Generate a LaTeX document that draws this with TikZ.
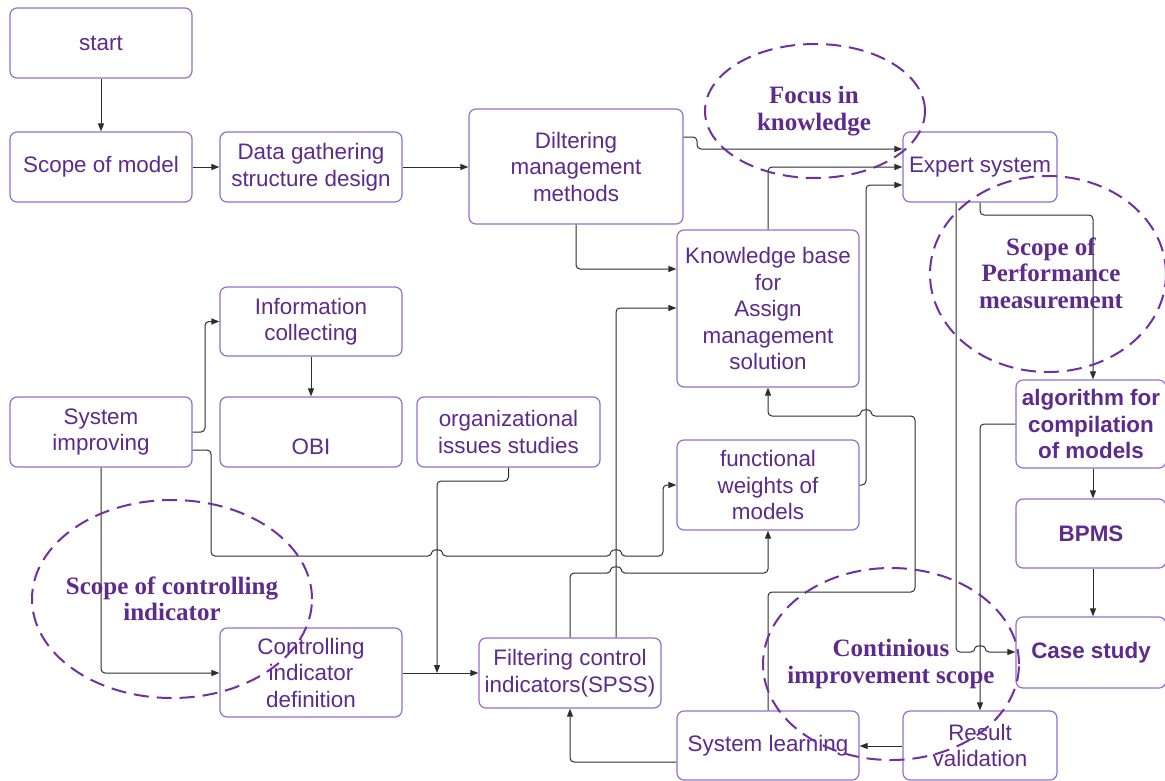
\documentclass[tikz,border=0pt]{standalone}
\usepackage{fontspec}
\setmainfont{Liberation Sans}
\newfontfamily\ellfont{Liberation Serif}
\usetikzlibrary{arrows.meta}
\definecolor{txtc}{RGB}{94,42,140}
\definecolor{boxc}{RGB}{150,110,205}
\definecolor{ellc}{RGB}{112,48,160}
\definecolor{linec}{RGB}{45,45,45}
\begin{document}
\begin{tikzpicture}[x=1pt,y=-1pt,
  box/.style={draw=boxc, line width=1.2pt, rounded corners=7pt, fill=white, text=txtc, align=center, inner sep=0pt, font=\fontsize{22.4}{26.5}\selectfont},
  bbox/.style={box, font=\bfseries\fontsize{22.4}{26.5}\selectfont},
  conn/.style={draw=linec, line width=1pt, rounded corners=4pt, -{Triangle[length=8pt,width=6pt]}},
  ell/.style={draw=ellc, line width=2pt, dash pattern=on 15pt off 8pt},
  elltext/.style={text=txtc, align=center, font=\ellfont\bfseries\fontsize{25}{26.5}\selectfont}]
\useasboundingbox (0,0) rectangle (1165,780);

% boxes
\node[box, minimum width=182pt, minimum height=70pt] (start) at (101,43) {start};
\node[box, minimum width=182pt, minimum height=70pt] (scope) at (101,167) {Scope of model};
\node[box, minimum width=182pt, minimum height=70pt] (data) at (311,167) {Data gathering\\structure design};
\node[box, minimum width=214pt, minimum height=115pt] (dilter) at (576,166.5) {Diltering\\management\\methods};
\node[box, minimum width=154pt, minimum height=70pt] (expert) at (980,167) {Expert system};
\node[box, minimum width=182pt, minimum height=157pt] (kb) at (768,308.5) {Knowledge base\\for\\Assign\\management\\solution};
\node[box, minimum width=182pt, minimum height=69pt] (info) at (311,321.5) {Information\\collecting};
\node[box, minimum width=182pt, minimum height=70pt] (sysimp) at (101,432) {System\\improving};
\node[box, minimum width=182pt, minimum height=70pt] (obi) at (311,432) {\strut\\OBI};
\node[box, minimum width=183pt, minimum height=70pt] (org) at (508.5,432) {organizational\\issues studies};
\node[box, minimum width=182pt, minimum height=90pt] (fw) at (768,485) {functional\\weights of\\models};
\node[bbox, minimum width=150pt, minimum height=88pt] (algo) at (1091,424) {algorithm for\\compilation\\of models};
\node[bbox, minimum width=150pt, minimum height=69pt] (bpms) at (1091,533.5) {BPMS};
\node[bbox, minimum width=150pt, minimum height=71pt] (case) at (1091,652.5) {Case study};
\node[box, minimum width=182pt, minimum height=89pt] (ctrl) at (311,672.5) {Controlling\\indicator\\definition};
\node[box, minimum width=182pt, minimum height=70pt] (filt) at (570,673) {Filtering control\\indicators(SPSS)};
\node[box, minimum width=182pt, minimum height=69pt] (syslearn) at (768,745.5) {System learning};
\node[box, minimum width=154pt, minimum height=69pt] (result) at (980,745.5) {Result\\validation};

% connectors
\draw[conn] (start) -- (scope);
\draw[conn] (scope) -- (data);
\draw[conn] (data.east) -- (data.east -| dilter.west);
\draw[conn] (dilter.east |- 0,137) -- (697,137) -- (697,149) -- (expert.west |- 0,149);
\draw[conn] (kb.north) |- (expert.west |- 0,167);
\draw[conn] (fw.east) -- (866,485) |- (expert.west |- 0,185);
\draw[conn] (dilter.south) |- (kb.west |- 0,269);
\draw[conn] (filt.north -| 616,0) |- (kb.west |- 0,308);
\draw[conn] (filt.north) -- (570,573) -- (611,573) .. controls (611,566) and (621,566) .. (621,573) -- (768,573) -- (fw.south);
\draw[conn] (sysimp.east |- 0,432) -- (205,432) |- (info.west);
\draw[conn] (info) -- (obi);
\draw[conn] (sysimp.east |- 0,450) -- (211,450) -- (211,556) -- (432,556) .. controls (432,549) and (442,549) .. (442,556) -- (611,556) .. controls (611,549) and (621,549) .. (621,556) -- (663,556) |- (fw.west);
\draw[conn] (sysimp.south) |- (ctrl.west |- 0,673);
\draw[conn] (org.south) -- (508.5,481) -- (437,481) -- (437,673);
\draw[conn] (ctrl.east |- 0,673) -- (filt.west |- 0,673);
\draw[conn] (expert.south) -- (980,215) -| (algo.north -| 1093,0);
\draw[conn] (expert.south -| 956,0) -- (956,652) -- (975,652) .. controls (975,645) and (985,645) .. (985,652) -- (case.west |- 0,652);
\draw[conn] (algo.west |- 0,424) -| (result.north);
\draw[conn] (algo.south -| 1093,0) -- (bpms.north -| 1093,0);
\draw[conn] (bpms.south -| 1093,0) -- (case.north -| 1093,0);
\draw[conn] (result.west |- 0,746) -- (syslearn.east |- 0,746);
\draw[conn] (syslearn.north) -- (768,592) -- (915,592) -- (915,416) -- (871,416) .. controls (871,409) and (861,409) .. (861,416) -- (768,416) -- (kb.south);
\draw[conn] (syslearn.west |- 0,762) -| (filt.south);

% dashed scopes
\draw[ell] (815,111) ellipse [x radius=110pt, y radius=67pt];
\node[elltext] (t1) at (814,111) {Focus in\\knowledge};
\draw[ell] (1048,274) ellipse [x radius=118pt, y radius=98pt];
\node[elltext] (t2) at (1051,273) {Scope of\\Performance\\measurement};
\draw[ell] (172,599) ellipse [x radius=140pt, y radius=99pt];
\node[elltext] (t3) at (172,599) {Scope of controlling\\indicator};
\draw[ell] (891,664) ellipse [x radius=128pt, y radius=96pt];
\node[elltext] (t4) at (891,664) {Continious\\improvement scope};
\end{tikzpicture}
\end{document}
